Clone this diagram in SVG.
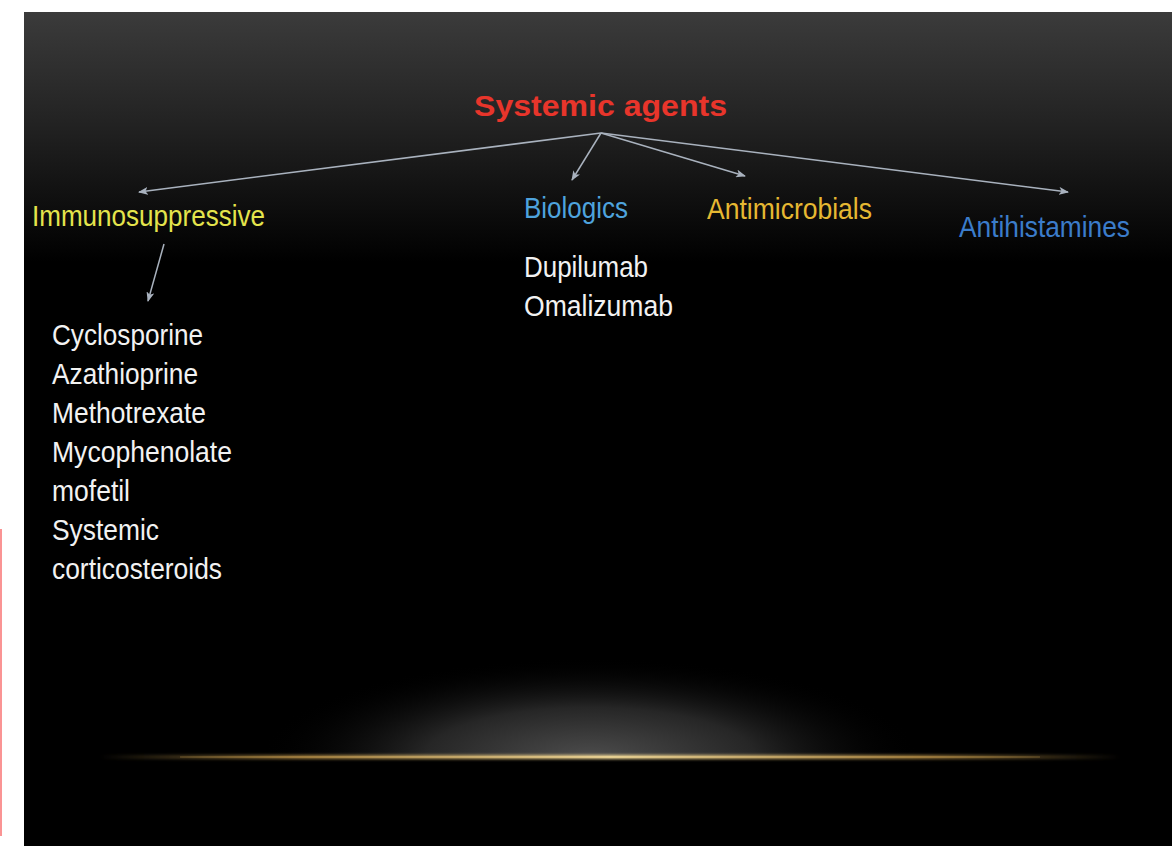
<svg xmlns="http://www.w3.org/2000/svg" width="1172" height="846" viewBox="0 0 1172 846">
<defs>
<linearGradient id="bg" x1="0" y1="0" x2="0" y2="1" gradientUnits="objectBoundingBox">
<stop offset="0" stop-color="#3b3b3b"/>
<stop offset="0.13" stop-color="#232323"/>
<stop offset="0.3" stop-color="#000"/>
<stop offset="1" stop-color="#000"/>
</linearGradient>
<radialGradient id="glow" cx="590" cy="757" r="330" gradientUnits="userSpaceOnUse" gradientTransform="translate(590 757) scale(1 0.3) translate(-590 -757)">
<stop offset="0" stop-color="#4c4c4c"/>
<stop offset="0.5" stop-color="#262626"/>
<stop offset="1" stop-color="#000" stop-opacity="0"/>
</radialGradient>
<linearGradient id="gold" x1="100" y1="0" x2="1120" y2="0" gradientUnits="userSpaceOnUse">
<stop offset="0" stop-color="#c8a050" stop-opacity="0"/>
<stop offset="0.2" stop-color="#b89048" stop-opacity="0.8"/>
<stop offset="0.5" stop-color="#f0d898"/>
<stop offset="0.8" stop-color="#b89048" stop-opacity="0.8"/>
<stop offset="1" stop-color="#c8a050" stop-opacity="0"/>
</linearGradient>
<filter id="blur" x="-10%" y="-300%" width="120%" height="700%"><feGaussianBlur stdDeviation="1.5"/></filter>
<clipPath id="above"><rect x="24" y="600" width="1148" height="157"/></clipPath>
<marker id="ah" markerWidth="10" markerHeight="8" refX="9" refY="4" orient="auto" markerUnits="userSpaceOnUse">
<path d="M0,0 L10,4 L0,8 L2.5,4 Z" fill="#a9b2be"/>
</marker>
</defs>
<style>
.t{font-family:"Liberation Sans",Arial,sans-serif;font-size:30px}
.w{fill:#f2f2f2}
.c{stroke:#a9b2be;stroke-width:1.5;fill:none;marker-end:url(#ah)}
</style>
<rect width="1172" height="846" fill="#fff"/>
<line x1="1" y1="529" x2="1" y2="836" stroke="#f87070" stroke-width="1.5"/>
<rect x="24" y="12" width="1148" height="834" fill="url(#bg)"/>
<g clip-path="url(#above)">
<ellipse cx="590" cy="757" rx="330" ry="100" fill="url(#glow)"/>
</g>
<rect x="100" y="755" width="1020" height="4" fill="url(#gold)" filter="url(#blur)"/>
<rect x="180" y="756.3" width="860" height="1.4" fill="url(#gold)"/>
<g id="connectors">
<line class="c" x1="601" y1="133" x2="139" y2="192"/>
<line class="c" x1="601" y1="133" x2="572" y2="180"/>
<line class="c" x1="601" y1="133" x2="745" y2="176"/>
<line class="c" x1="601" y1="133" x2="1068" y2="192"/>
<line class="c" x1="164" y1="244" x2="148" y2="301"/>
</g>
<g id="root"><text class="t" x="474" y="116" font-weight="bold" font-size="34" fill="#e8352b" textLength="253" lengthAdjust="spacingAndGlyphs">Systemic agents</text></g>
<g id="immunosuppressive"><text class="t" x="32" y="226" fill="#e4e44c" textLength="233" lengthAdjust="spacingAndGlyphs">Immunosuppressive</text></g>
<g id="biologics"><text class="t" x="524" y="218" fill="#4ea3dd" textLength="104" lengthAdjust="spacingAndGlyphs">Biologics</text></g>
<g id="antimicrobials"><text class="t" x="707" y="219" fill="#e6b832" textLength="165" lengthAdjust="spacingAndGlyphs">Antimicrobials</text></g>
<g id="antihistamines"><text class="t" x="959" y="237" fill="#3b7cca" textLength="171" lengthAdjust="spacingAndGlyphs">Antihistamines</text></g>
<g id="biologics-list">
<text class="t w" x="524" y="277" textLength="124" lengthAdjust="spacingAndGlyphs">Dupilumab</text>
<text class="t w" x="524" y="316" textLength="149" lengthAdjust="spacingAndGlyphs">Omalizumab</text>
</g>
<g id="immuno-list">
<text class="t w" x="52" y="345" textLength="151" lengthAdjust="spacingAndGlyphs">Cyclosporine</text>
<text class="t w" x="52" y="384" textLength="146" lengthAdjust="spacingAndGlyphs">Azathioprine</text>
<text class="t w" x="52" y="423" textLength="154" lengthAdjust="spacingAndGlyphs">Methotrexate</text>
<text class="t w" x="52" y="462" textLength="180" lengthAdjust="spacingAndGlyphs">Mycophenolate</text>
<text class="t w" x="52" y="501" textLength="78" lengthAdjust="spacingAndGlyphs">mofetil</text>
<text class="t w" x="52" y="540" textLength="107" lengthAdjust="spacingAndGlyphs">Systemic</text>
<text class="t w" x="52" y="579" textLength="170" lengthAdjust="spacingAndGlyphs">corticosteroids</text>
</g>
</svg>
